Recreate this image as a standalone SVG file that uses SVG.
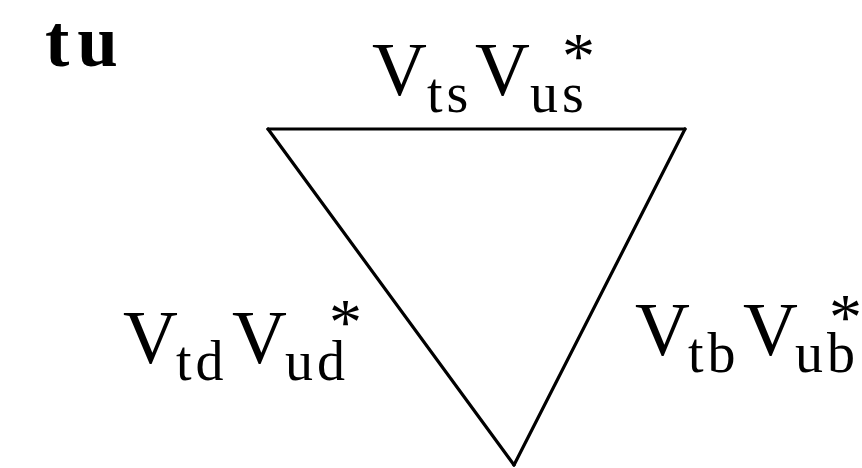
<svg xmlns="http://www.w3.org/2000/svg" width="862" height="468" viewBox="0 0 862 468">
<style>
.m{font-family:"Liberation Serif","Times New Roman",serif;fill:#000}
.big{font-size:76px}
.sub{font-size:56px;letter-spacing:4px}
.star{font-size:66px}
.edge{stroke:#000;stroke-width:3.2;fill:none;stroke-linecap:round;stroke-linejoin:round}
</style>
<rect width="862" height="468" fill="#fff"/>
<g id="title"><text class="m" x="45" y="66" font-size="73" font-weight="bold" letter-spacing="8">tu</text></g>
<g id="connectors">
<line class="edge" x1="268" y1="129" x2="685" y2="129"/>
<line class="edge" x1="268" y1="129" x2="514" y2="465"/>
<line class="edge" x1="685" y1="129" x2="514" y2="465"/>
</g>
<g id="label-top">
<text class="m big" x="372" y="95">V</text>
<text class="m sub" x="427" y="112">ts</text>
<text class="m big" x="475" y="95">V</text>
<text class="m sub" x="530" y="112">us</text>
<text class="m star" x="562" y="78">*</text>
</g>
<g id="label-left">
<text class="m big" x="123" y="363">V</text>
<text class="m sub" x="176" y="380">td</text>
<text class="m big" x="232" y="363">V</text>
<text class="m sub" x="285" y="380">ud</text>
<text class="m star" x="329" y="344">*</text>
</g>
<g id="label-right">
<text class="m big" x="635" y="355">V</text>
<text class="m sub" x="688" y="372">tb</text>
<text class="m big" x="743" y="355">V</text>
<text class="m sub" x="795" y="372">ub</text>
<text class="m star" x="829" y="339">*</text>
</g>
</svg>
